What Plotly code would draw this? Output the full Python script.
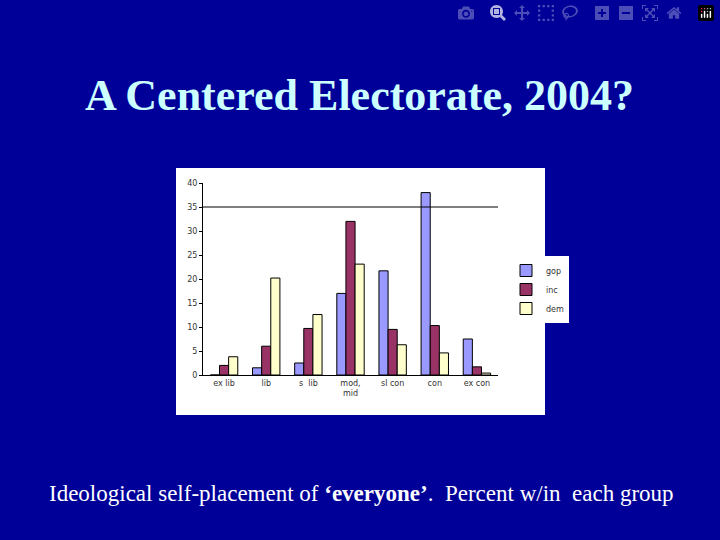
import plotly.graph_objects as go

categories = ["ex lib", "lib", "s  lib", "mod,<br>mid", "sl con", "con", "ex con"]
gop = [0, 1.5, 2.5, 17, 21.7, 38, 7.5]
inc = [2, 6, 9.7, 32, 9.5, 10.3, 1.7]
dem = [3.8, 20.2, 12.6, 23.1, 6.3, 4.6, 0.4]

fig = go.Figure()
for name, vals, col in [("gop", gop, "#9999ff"), ("inc", inc, "#993366"), ("dem", dem, "#ffffcc")]:
    fig.add_bar(name=name, x=categories, y=vals, marker=dict(color=col, line=dict(color="black", width=1)))

W, H = 720, 540
l, r, t, b = 203, 222, 183, 165
pw, ph = W - l - r, H - t - b
def px(x): return (x - l) / pw
def py(y): return (H - b - y) / ph

fig.update_layout(
    width=W, height=H, margin=dict(l=l, r=r, t=t, b=b),
    paper_bgcolor="#000099", plot_bgcolor="#c0c0c0",
    barmode="group", bargap=0.35, bargroupgap=0,
    font=dict(family="DejaVu Sans", size=8, color="black"),
    showlegend=True,
    legend=dict(x=px(506), y=py(256), xanchor="left", yanchor="top", bgcolor="white",
                font=dict(size=8, color="#333"), tracegroupgap=0, itemwidth=30,
                borderwidth=0),
    yaxis=dict(range=[0, 40], dtick=5, showgrid=False, showline=True, linecolor="black",
               ticks="outside", ticklen=3, tickcolor="black", tickfont=dict(color="#333")),
    xaxis=dict(showline=True, linecolor="black", ticks="", tickfont=dict(color="#333")),
    shapes=[
        dict(type="rect", xref="paper", yref="paper", x0=px(176), x1=px(545), y0=py(415), y1=py(168),
             fillcolor="white", line=dict(width=0), layer="below"),
        dict(type="line", xref="paper", yref="y", x0=0, x1=1, y0=35, y1=35,
             line=dict(color="black", width=1)),
    ],
    annotations=[
        dict(text="<b>A Centered Electorate, 2004?</b>", xref="paper", yref="paper",
             x=px(359), y=py(95), xanchor="center", yanchor="middle", showarrow=False,
             font=dict(family="Liberation Serif", size=44, color="#ccffff")),
        dict(text="Ideological self-placement of <b>‘everyone’</b>.  Percent w/in  each group",
             xref="paper", yref="paper", x=px(361), y=py(493), xanchor="center", yanchor="middle",
             showarrow=False, font=dict(family="Liberation Serif", size=23, color="white")),
    ],
)
fig.write_html("out.html", post_script="document.body.style.margin='0';")
